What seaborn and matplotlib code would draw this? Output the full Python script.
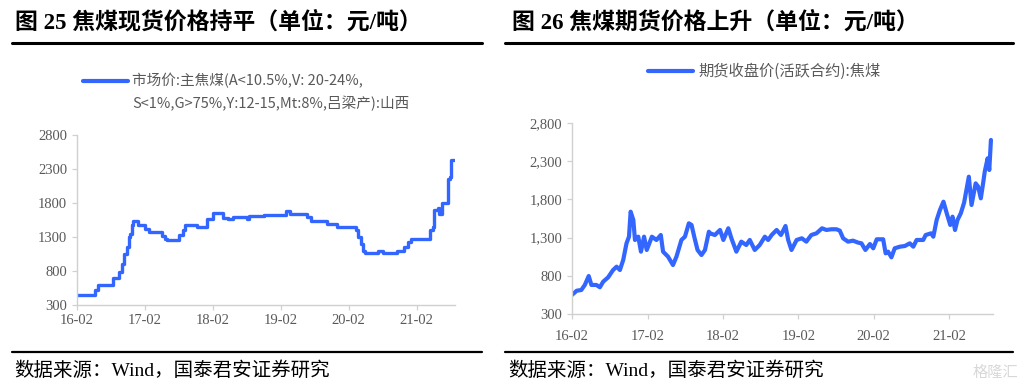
import matplotlib
matplotlib.use("Agg")
import matplotlib.pyplot as plt
import matplotlib.dates as mdates
from matplotlib.lines import Line2D
from matplotlib.ticker import FuncFormatter
import pandas as pd
import seaborn as sns

# ---------------- data ----------------
spot_dates = ["2016-02-01", "2016-04-20", "2016-05-10", "2016-05-25", "2016-08-15",
              "2016-09-12", "2016-10-01", "2016-10-13", "2016-10-25", "2016-11-05",
              "2016-11-13", "2016-11-22", "2016-12-01", "2016-12-23", "2017-02-03",
              "2017-02-21", "2017-05-01", "2017-05-19", "2017-06-01", "2017-08-01",
              "2017-08-22", "2017-09-06", "2017-11-07", "2018-01-01", "2018-02-01",
              "2018-03-28", "2018-04-25", "2018-05-22", "2018-08-03", "2018-08-16",
              "2018-11-04", "2019-03-01", "2019-03-25", "2019-06-25", "2019-07-12",
              "2019-10-07", "2019-12-01", "2020-03-13", "2020-03-25", "2020-04-09",
              "2020-04-21", "2020-05-01", "2020-07-06", "2020-08-07", "2020-10-19",
              "2020-11-28", "2020-12-15", "2021-01-01", "2021-04-16", "2021-05-01",
              "2021-05-08", "2021-05-25", "2021-06-04", "2021-06-16", "2021-07-18",
              "2021-08-01", "2021-08-07", "2021-08-24"]
spot_values = [450, 440, 520, 600, 700,
               780, 900, 1050, 1150, 1300,
               1350, 1480, 1530, 1470, 1420,
               1380, 1320, 1270, 1250, 1330,
               1410, 1480, 1450, 1560, 1660,
               1580, 1560, 1590, 1560, 1610,
               1630, 1680, 1640, 1600, 1530,
               1490, 1440, 1400, 1300, 1200,
               1100, 1060, 1100, 1060, 1100,
               1150, 1220, 1270, 1400, 1450,
               1700, 1730, 1640, 1800, 2150,
               2180, 2430, 2430]

fut_dates = ["2016-02-01", "2016-02-24", "2016-03-17", "2016-04-03", "2016-04-22",
             "2016-05-05", "2016-05-29", "2016-06-15", "2016-07-01", "2016-07-25",
             "2016-08-18", "2016-09-04", "2016-09-20", "2016-10-06", "2016-10-22",
             "2016-11-03", "2016-11-11", "2016-11-24", "2016-12-02", "2016-12-18",
             "2016-12-31", "2017-01-15", "2017-01-28", "2017-02-22", "2017-03-16",
             "2017-04-06", "2017-04-17", "2017-05-11", "2017-06-04", "2017-06-21",
             "2017-07-15", "2017-08-01", "2017-08-20", "2017-09-02", "2017-09-15",
             "2017-10-01", "2017-10-20", "2017-11-06", "2017-11-25", "2017-11-30",
             "2017-12-24", "2018-01-18", "2018-02-03", "2018-02-27", "2018-03-14",
             "2018-04-07", "2018-05-01", "2018-05-25", "2018-06-11", "2018-07-05",
             "2018-07-29", "2018-08-23", "2018-09-08", "2018-09-25", "2018-10-19",
             "2018-11-09", "2018-12-01", "2018-12-14", "2018-12-30", "2019-01-24",
             "2019-02-18", "2019-03-12", "2019-04-05", "2019-04-30", "2019-05-27",
             "2019-06-17", "2019-07-11", "2019-08-05", "2019-08-21", "2019-09-06",
             "2019-09-30", "2019-10-24", "2019-11-18", "2019-12-04", "2019-12-23",
             "2020-01-14", "2020-01-30", "2020-02-16", "2020-03-18", "2020-03-30",
             "2020-04-11", "2020-04-27", "2020-05-13", "2020-06-07", "2020-07-01",
             "2020-07-25", "2020-08-11", "2020-08-27", "2020-09-28", "2020-10-10",
             "2020-11-05", "2020-11-16", "2020-12-02", "2020-12-18", "2021-01-04",
             "2021-01-20", "2021-02-06", "2021-02-17", "2021-03-01", "2021-03-13",
             "2021-03-29", "2021-04-14", "2021-05-07", "2021-05-20", "2021-06-09",
             "2021-06-21", "2021-07-04", "2021-07-15", "2021-07-23", "2021-08-06",
             "2021-08-14", "2021-08-22"]
fut_values = [550, 605, 614, 680, 797,
              680, 680, 650, 723, 780,
              876, 919, 876, 1007, 1225,
              1312, 1639, 1530, 1269, 1312,
              1116, 1312, 1138, 1312, 1269,
              1334, 1116, 1051, 941, 1051,
              1269, 1312, 1487, 1465, 1312,
              1138, 1072, 1138, 1377, 1356,
              1334, 1400, 1269, 1422, 1291,
              1116, 1247, 1203, 1269, 1138,
              1203, 1312, 1269, 1334, 1400,
              1334, 1452, 1269, 1138, 1269,
              1291, 1247, 1334, 1356, 1422,
              1400, 1409, 1409, 1391, 1291,
              1247, 1260, 1234, 1225, 1138,
              1216, 1160, 1278, 1278, 1094,
              1116, 1042, 1160, 1181, 1190,
              1225, 1181, 1269, 1269, 1334,
              1356, 1312, 1530, 1661, 1770,
              1618, 1465, 1574, 1400, 1530,
              1618, 1757, 2097, 1727, 2010,
              1967, 1814, 2010, 2163, 2338,
              2185, 2578]

y_ticks = [300, 800, 1300, 1800, 2300, 2800]

left_title = "图 25 焦煤现货价格持平（单位：元/吨）"
right_title = "图 26 焦煤期货价格上升（单位：元/吨）"
left_legend = ["市场价:主焦煤(A<10.5%,V: 20-24%,", "S<1%,G>75%,Y:12-15,Mt:8%,吕梁产):山西"]
right_legend = "期货收盘价(活跃合约):焦煤"
source_text = "数据来源：Wind，国泰君安证券研究"

# ---------------- style ----------------
sns.set_theme(style="white")
plt.rcParams["font.family"] = ["Liberation Serif", "Noto Sans CJK SC", "DejaVu Sans"]
plt.rcParams["axes.unicode_minus"] = False

W, H = 1027, 389
fig = plt.figure(figsize=(W / 100, H / 100), dpi=100)
fig.patch.set_facecolor("white")

LINE = "#3366FF"
GREY_TXT = "#595959"
SPINE = "#D0D0D0"

def px(x0, y0, x1, y1):
    return [x0 / W, 1 - y1 / H, (x1 - x0) / W, (y1 - y0) / H]

ax1 = fig.add_axes(px(77, 135, 455, 305))
ax2 = fig.add_axes(px(572, 123, 993, 314))

df_spot = pd.DataFrame({"date": pd.to_datetime(spot_dates), "price": spot_values})
df_fut = pd.DataFrame({"date": pd.to_datetime(fut_dates), "price": fut_values})

sns.lineplot(data=df_spot, x="date", y="price", ax=ax1, color=LINE, linewidth=2.4,
             drawstyle="steps-post")
sns.lineplot(data=df_fut, x="date", y="price", ax=ax2, color=LINE, linewidth=3.0)

for ax, xend in ((ax1, "2021-08-27"), (ax2, "2021-09-01")):
    ax.set_xlim(pd.Timestamp("2016-02-01"), pd.Timestamp(xend))
    ax.set_ylim(300, 2800)
    ax.set_yticks(y_ticks)
    ax.xaxis.set_major_locator(mdates.MonthLocator(bymonth=2))
    ax.xaxis.set_major_formatter(mdates.DateFormatter("%y-%m"))
    ax.set_xlabel("")
    ax.set_ylabel("")
    for s in ("top", "right"):
        ax.spines[s].set_visible(False)
    for s in ("left", "bottom"):
        ax.spines[s].set_color(SPINE)
        ax.spines[s].set_linewidth(1.0)
    ax.tick_params(axis="both", which="major", length=3.5, width=0.9, color=SPINE,
                   labelcolor=GREY_TXT, labelsize=10.5, direction="out",
                   bottom=True, left=True)
    for lab in ax.get_xticklabels() + ax.get_yticklabels():
        lab.set_fontfamily("Liberation Serif")
    ax.grid(False)
    ax.set_facecolor("white")

ax1.tick_params(axis="x", pad=3)
ax2.tick_params(axis="x", pad=8)
ax2.yaxis.set_major_formatter(FuncFormatter(lambda v, p: f"{v:,.0f}"))

# ---------------- titles & rules ----------------
title_fam = ["Liberation Serif", "Noto Sans CJK SC"]
fig.text(15 / W, 1 - 22 / H, left_title, fontsize=16.5, fontweight="bold",
         family=title_fam, va="center", ha="left", color="black")
fig.text(512 / W, 1 - 22 / H, right_title, fontsize=16.5, fontweight="bold",
         family=title_fam, va="center", ha="left", color="black")

for (x0, x1) in ((12, 482), (505, 1013)):
    fig.add_artist(Line2D([x0 / W, x1 / W], [1 - 43 / H, 1 - 43 / H], color="black", lw=2.2))
    fig.add_artist(Line2D([x0 / W, x1 / W], [1 - 352 / H, 1 - 352 / H], color="black", lw=1.6))

fig.text(14 / W, 1 - 371 / H, source_text, fontsize=14, family=title_fam,
         va="center", ha="left", color="black")
fig.text(508 / W, 1 - 371 / H, source_text, fontsize=14, family=title_fam,
         va="center", ha="left", color="black")

# watermark
fig.text(1018 / W, 1 - 372 / H, "格隆汇", fontsize=11, family=["Noto Sans CJK SC"],
         va="center", ha="right", color="#D8D8D8")

# ---------------- legends ----------------
leg_fam = ["Noto Sans CJK SC", "DejaVu Sans"]
fig.add_artist(Line2D([83 / W, 128 / W], [1 - 81 / H, 1 - 81 / H], color=LINE, lw=3.0))
fig.text(132 / W, 1 - 81 / H, left_legend[0], fontsize=10.5, family=leg_fam,
         va="center", ha="left", color=GREY_TXT)
fig.text(132 / W, 1 - 103 / H, left_legend[1], fontsize=10.5, family=leg_fam,
         va="center", ha="left", color=GREY_TXT)

fig.add_artist(Line2D([648 / W, 693 / W], [1 - 71 / H, 1 - 71 / H], color=LINE, lw=3.0))
fig.text(698 / W, 1 - 71 / H, right_legend, fontsize=11, family=leg_fam,
         va="center", ha="left", color=GREY_TXT)

fig.savefig("out.png", dpi=100, facecolor="white")
